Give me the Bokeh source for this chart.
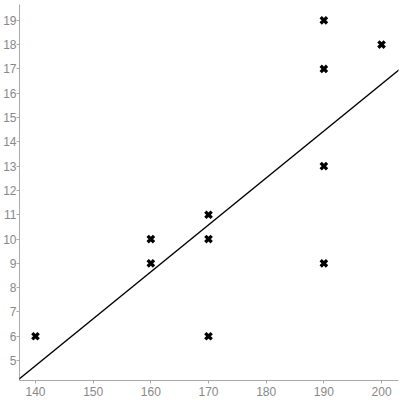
import numpy as np
from bokeh.plotting import figure
from bokeh.models import FixedTicker, Slope, ColumnDataSource
from bokeh.embed import file_html
from bokeh.resources import INLINE

height_cm = [140, 160, 160, 170, 170, 170, 190, 190, 190, 190, 200]
score = [6, 9, 10, 6, 10, 11, 9, 13, 17, 19, 18]
x_ticks = [140, 150, 160, 170, 180, 190, 200]
y_ticks = list(range(5, 20))

slope, intercept = np.polyfit(height_cm, score, 1)

p = figure(width=400, height=400, output_backend="svg", toolbar_location=None,
           x_range=(137.23, 202.94), y_range=(4.18, 19.65),
           min_border_left=0, min_border_right=2, min_border_top=4, min_border_bottom=20)
p.outline_line_color = None
p.xgrid.grid_line_color = None
p.ygrid.grid_line_color = None
p.background_fill_color = "white"
p.border_fill_color = "white"

for ax in (p.xaxis[0], p.yaxis[0]):
    ax.axis_line_color = "#aaaaaa"
    ax.major_tick_line_color = "#aaaaaa"
    ax.minor_tick_line_color = None
    ax.major_tick_in = 0
    ax.major_tick_out = 3
    ax.major_label_text_color = "#888888"
    ax.major_label_text_font = "Liberation Sans"
    ax.major_label_text_font_size = "12px"
p.xaxis[0].major_label_standoff = 3
p.yaxis[0].major_label_standoff = 0
p.xaxis.ticker = FixedTicker(ticks=x_ticks)
p.yaxis.ticker = FixedTicker(ticks=y_ticks)

p.add_layout(Slope(gradient=slope, y_intercept=intercept, line_color="black", line_width=1.3))

src = ColumnDataSource(dict(x=height_cm, y=score))
p.scatter("x", "y", source=src, marker="x", size=9, line_width=3.3, line_color="black")

open("out.html", "w").write(file_html(p, INLINE))
